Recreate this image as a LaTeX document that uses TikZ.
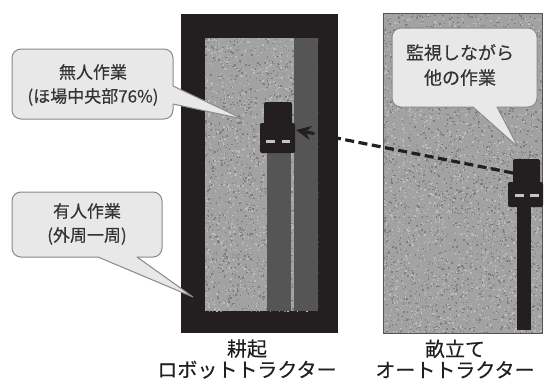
\documentclass[tikz,border=0pt]{standalone}
\usepackage{fontspec}
\newfontfamily\jp[FakeBold=0.3]{Noto Sans CJK JP}
\usetikzlibrary{arrows.meta}
\definecolor{ink}{HTML}{231F20}
\definecolor{soil}{HTML}{A2A2A2}
\definecolor{soildark}{HTML}{7E7E7E}
\definecolor{soillight}{HTML}{BCBCBC}
\definecolor{track}{HTML}{555555}
\definecolor{lampgray}{HTML}{C4C4C4}
\definecolor{bubblefill}{HTML}{E8E8E8}
\definecolor{bubbleline}{HTML}{8A8A8A}
\definecolor{txt}{HTML}{333333}
\tikzset{
  bubble/.style={fill=bubblefill, draw=bubbleline, line width=1pt, line join=round},
  bubbletext/.style={font=\jp\fontsize{17}{24}\selectfont, text=txt, align=center, inner sep=0pt},
  caption/.style={font=\jp\fontsize{20}{21}\selectfont, text=ink, align=center, inner sep=0pt},
  machine/.style={fill=ink, rounded corners=2pt},
  lamp/.style={fill=lampgray},
  dasharrow/.style={draw=ink, line width=3.2pt, dash pattern=on 9pt off 4.5pt,
    -{Stealth[length=15pt, width=14pt]}},
}
\newcommand{\speckle}[5]{% x0, y0, width, height, count
  \foreach \k in {1,...,#5}{%
    \pgfmathsetmacro\px{#1+#3*rnd}%
    \pgfmathsetmacro\py{#2+#4*rnd}%
    \pgfmathsetmacro\pc{rnd}%
    \ifdim\pc pt<0.5pt
      \fill[soildark] (\px,\py) rectangle ++(1.4,1.4);
    \else
      \fill[soillight] (\px,\py) rectangle ++(1.4,1.4);
    \fi
  }%
}
\begin{document}
\begin{tikzpicture}[x=1pt, y=-1pt]
\useasboundingbox (0,0) rectangle (546,388);
\fill[white] (0,0) rectangle (546,388);
\pgfmathsetseed{42}

% ---- tilled field with robot tractor ----
\fill[ink] (181,14) rectangle (338,333);
\fill[soil] (205,38) rectangle (318,311);
\begin{scope}
  \clip (205,38) rectangle (318,311);
  \speckle{204}{37}{115}{275}{2600}
\end{scope}
\fill[track] (294,38) rectangle (318,311);
\fill[track] (267,153) rectangle (291,311);

% ---- ridged field with auto tractor ----
\fill[soil] (383,13) rectangle (542,333);
\begin{scope}
  \clip (383,13) rectangle (542,333);
  \speckle{382}{12}{161}{322}{4200}
\end{scope}
\draw[track, line width=0.8pt] (383,13) rectangle (542,333);
\fill[ink] (517,200) rectangle (531,330);

% ---- robot tractor ----
\fill[machine] (264,102) rectangle (292,125);
\fill[machine] (260,123) rectangle (295,153);
\fill[lamp] (266,140) rectangle (275,143);
\fill[lamp] (282,140) rectangle (290,143);
\coordinate (robot) at (296,130);

% ---- auto tractor ----
\fill[machine] (513,159) rectangle (540,184);
\fill[machine] (508,182) rectangle (543,207);
\fill[lamp] (515,194) rectangle (524,197);
\fill[lamp] (530,194) rectangle (539,197);
\coordinate (auto) at (513,173);

% ---- remote supervision link ----
\draw[dasharrow] (auto) -- (robot);

% ---- speech bubbles ----
\draw[bubble] (12,60) [rounded corners=9pt] -- (12,49) -- (173,49) [sharp corners] -- (173,86)
  -- (243,119) -- (173,104) [rounded corners=9pt] -- (173,119) -- (12,119) [sharp corners] -- cycle;
\node[bubbletext] (unmanned) at (93,85) {無人作業\\(ほ場中央部76\%)};

\draw[bubble] (12,210) [rounded corners=9pt] -- (12,192) -- (162,192) -- (162,257) [sharp corners] -- (137,257)
  -- (193,297) -- (98,257) [rounded corners=9pt] -- (12,257) [sharp corners] -- cycle;
\node[bubbletext] (manned) at (87,224) {有人作業\\(外周一周)};

\draw[bubble] (392,60) [rounded corners=9pt] -- (392,28) -- (537,28) -- (537,107) [sharp corners] -- (497,107)
  -- (518,147) -- (473,107) [rounded corners=9pt] -- (392,107) [sharp corners] -- cycle;
\node[bubbletext, font=\jp\fontsize{18}{25}\selectfont] (watch) at (460,65) {監視しながら\\他の作業};

% ---- captions ----
\node[caption] (capL) at (247,359) {耕起\\ロボットトラクター};
\node[caption] (capR) at (455,359) {畝立て\\オートトラクター};
\end{tikzpicture}
\end{document}
